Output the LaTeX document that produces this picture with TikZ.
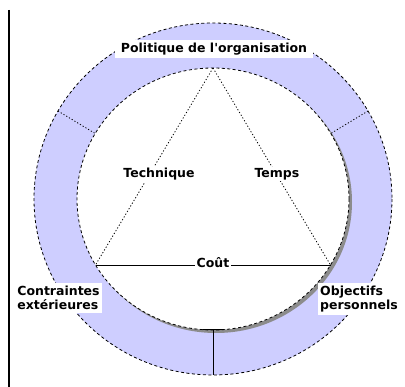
\documentclass[tikz,border=0pt]{standalone}
\usepackage{fontspec}
\setmainfont{DejaVu Sans}[Ligatures=TeXOff]
\usetikzlibrary{calc}
\definecolor{lav}{RGB}{206,206,255}
\begin{document}
\begin{tikzpicture}[x=1pt,y=-1pt,
  font=\fontsize{12.5}{14}\selectfont\bfseries,
  ring/.style={draw=black, line width=0.8pt, dash pattern=on 3pt off 2.5pt},
  tri/.style={draw=black, line width=0.8pt, dash pattern=on 1.2pt off 2pt},
  lbl/.style={fill=white, inner sep=1.5pt},
  box/.style={fill=white, inner sep=2pt, align=left}]
\useasboundingbox (0,0) rectangle (405,387);
\fill[white] (0,0) rectangle (405,387);
\coordinate (c) at (213,199);
\coordinate (lt) at (9,10);
\coordinate (lb) at (9,387);
\draw[line width=1.8pt] (lt) -- (lb);
% ring
\fill[lav] (c) ellipse [x radius=179, y radius=176];
\fill[black!45] ($(c)+(3,3)$) ellipse [x radius=136, y radius=131];
\fill[white] (c) ellipse [x radius=136, y radius=131];
\draw[ring] (c) ellipse [x radius=179, y radius=176];
\draw[ring] (c) ellipse [x radius=136, y radius=131];
% dividers
\coordinate (o150) at (58,111);
\coordinate (i150) at (95.2,133.5);
\coordinate (o30) at (368,111);
\coordinate (i30) at (330.8,133.5);
\coordinate (o270) at (213,375);
\coordinate (i270) at (213,330);
\draw[tri] (o150) -- (i150);
\draw[tri] (o30) -- (i30);
\draw[line width=1pt] (i270) -- (o270);
\draw[line width=1pt] (203,330) -- (223,330);
% triangle
\coordinate (apex) at (213,68);
\coordinate (L) at (95.5,265);
\coordinate (R) at (330.5,265);
\draw[tri] (apex) -- (L);
\draw[tri] (apex) -- (R);
\draw[line width=0.9pt] (L) -- (R);
\node[lbl] (tech) at (159,174) {Technique};
\node[lbl] (temps) at (277,174) {Temps};
\node[lbl] (cout) at (213,263) {Coût};
% ring labels
\node[fill=white, minimum width=198pt, minimum height=18pt, inner sep=0pt] (pol) at (214,49) {Politique de l'organisation};
\node[box, minimum width=87pt, minimum height=30pt] (contr) at (58.5,298) {Contraintes\\extérieures};
\node[box, minimum width=82pt, minimum height=32pt] (obj) at (359,299) {Objectifs\\personnels};
\end{tikzpicture}
\end{document}
